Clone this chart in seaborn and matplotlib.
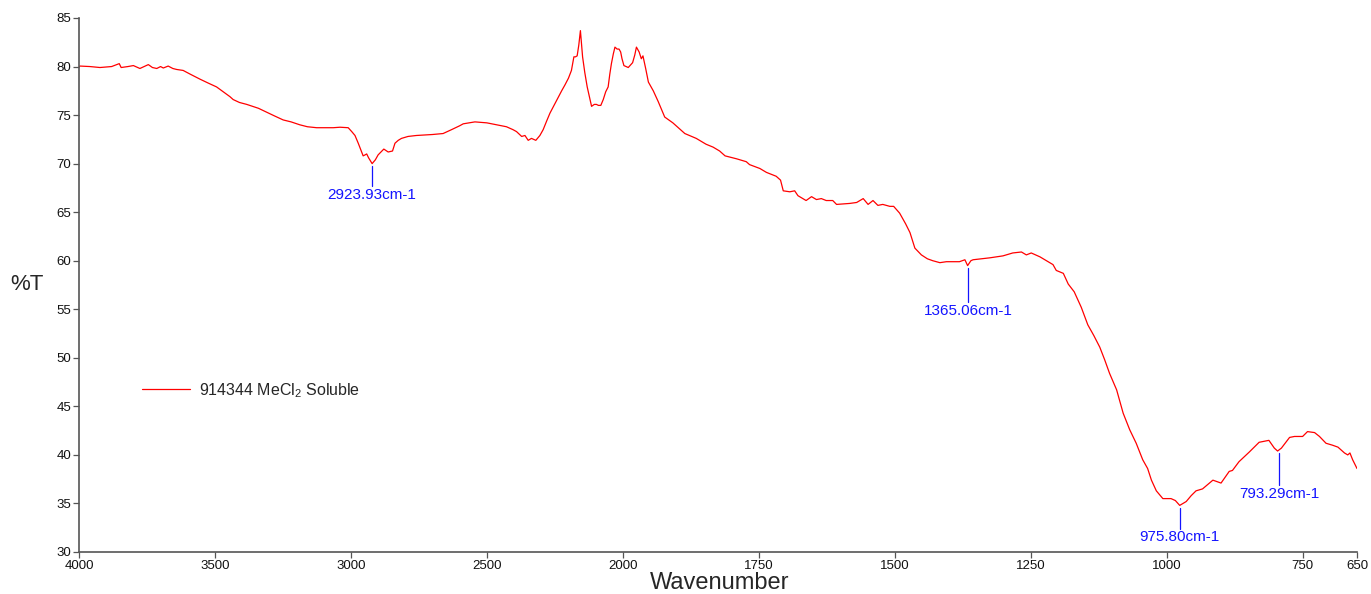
import matplotlib
matplotlib.use("Agg")
import matplotlib.pyplot as plt
import numpy as np
import seaborn as sns

# spectrum (wavenumber cm-1, %T)
wavenumber = [
    4000, 3996, 3960, 3923, 3880, 3852, 3845, 3820, 3800, 3776, 3760, 3745, 3730, 3714,
    3700, 3690, 3672, 3655, 3641, 3617, 3590, 3555, 3525, 3494, 3465, 3445, 3433, 3410,
    3383, 3340, 3310, 3280, 3249, 3220, 3188, 3160, 3126, 3100, 3065, 3040, 3010, 2997,
    2985, 2973, 2962, 2955, 2948, 2942, 2935, 2922, 2910, 2900, 2879, 2863, 2847, 2838,
    2826, 2814, 2790, 2759, 2700, 2661, 2630, 2600, 2587, 2544, 2500, 2464, 2428, 2404,
    2391, 2372, 2360, 2348, 2336, 2320, 2305, 2293, 2280, 2268, 2253, 2238, 2225, 2213,
    2200, 2189, 2180, 2174, 2168, 2162, 2156, 2152, 2148, 2140, 2131, 2122, 2115, 2105,
    2097, 2090, 2081, 2072, 2063, 2054, 2048, 2042, 2035, 2029, 2021, 2014, 2008, 2003,
    1998, 1990, 1982, 1978, 1975, 1970, 1966, 1963, 1958, 1953, 1944, 1935, 1923, 1908,
    1886, 1865, 1847, 1834, 1822, 1812, 1791, 1773, 1767, 1748, 1736, 1718, 1710, 1705,
    1693, 1684, 1678, 1663, 1653, 1644, 1635, 1626, 1614, 1607, 1583, 1570, 1558, 1549,
    1540, 1531, 1522, 1509, 1502, 1491, 1480, 1472, 1463, 1451, 1440, 1430, 1417, 1405,
    1381, 1371, 1366, 1360, 1356, 1325, 1301, 1283, 1267, 1258, 1249, 1233, 1215, 1209,
    1203, 1190, 1181, 1170, 1157, 1145, 1134, 1123, 1114, 1105, 1092, 1080, 1068, 1056,
    1044, 1035, 1028, 1019, 1007, 992, 984, 976, 964, 955, 946, 934, 915, 900,
    885, 879, 867, 848, 830, 812, 802, 796, 789, 774, 765, 750, 741, 728,
    719, 707, 695, 685, 673, 667, 663, 658, 650,
]
transmittance = [
    80.0, 80.05, 80.0, 79.9, 80.0, 80.3, 79.9, 80.0, 80.1, 79.8, 80.0, 80.2, 79.9, 79.8,
    80.0, 79.85, 80.05, 79.8, 79.7, 79.6, 79.2, 78.7, 78.3, 77.9, 77.3, 76.9, 76.6, 76.3,
    76.1, 75.7, 75.3, 74.9, 74.5, 74.3, 74.0, 73.8, 73.7, 73.7, 73.7, 73.75, 73.7, 73.3,
    72.9, 72.1, 71.3, 70.8, 70.9, 71.0, 70.6, 70.0, 70.4, 70.9, 71.5, 71.2, 71.3, 72.1,
    72.4, 72.6, 72.8, 72.9, 73.0, 73.1, 73.5, 73.9, 74.1, 74.3, 74.2, 74.0, 73.8, 73.5,
    73.3, 72.8, 72.9, 72.4, 72.6, 72.4, 72.9, 73.5, 74.4, 75.2, 76.0, 76.8, 77.5, 78.1,
    78.8, 79.6, 81.0, 81.0, 81.1, 82.2, 83.7, 82.3, 81.0, 79.4, 77.9, 76.8, 75.9, 76.1,
    76.1, 76.0, 76.0, 76.6, 77.4, 77.9, 79.2, 80.3, 81.3, 82.0, 81.8, 81.8, 81.5, 80.8,
    80.1, 79.9, 80.4, 81.2, 82.0, 81.5, 80.8, 81.1, 79.8, 78.4, 77.5, 76.4, 74.8, 74.2,
    73.1, 72.6, 72.0, 71.7, 71.3, 70.8, 70.5, 70.2, 69.9, 69.5, 69.1, 68.7, 68.3, 67.2,
    67.1, 67.2, 66.7, 66.2, 66.6, 66.3, 66.4, 66.2, 66.2, 65.8, 65.9, 66.0, 66.4, 65.8,
    66.2, 65.7, 65.8, 65.6, 65.6, 64.9, 63.8, 62.9, 61.3, 60.6, 60.2, 60.0, 59.8, 59.9,
    59.9, 60.1, 59.5, 60.0, 60.1, 60.3, 60.5, 60.8, 60.9, 60.6, 60.8, 60.4, 59.8, 59.6,
    59.0, 58.7, 57.6, 56.8, 55.2, 53.4, 52.3, 51.1, 49.8, 48.4, 46.7, 44.3, 42.6, 41.2,
    39.5, 38.6, 37.4, 36.3, 35.5, 35.5, 35.3, 34.8, 35.2, 35.8, 36.3, 36.5, 37.4, 37.1,
    38.3, 38.4, 39.3, 40.3, 41.3, 41.5, 40.7, 40.4, 40.7, 41.8, 41.9, 41.9, 42.4, 42.3,
    41.9, 41.2, 41.0, 40.8, 40.2, 40.0, 40.2, 39.5, 38.6,
]

peak_wn = [2923.93, 1365.06, 975.80, 793.29]
peak_labels = ["2923.93cm-1", "1365.06cm-1", "975.80cm-1", "793.29cm-1"]
peak_label_T = [66.8, 54.8, 31.5, 36.0]

x_ticks = [4000, 3500, 3000, 2500, 2000, 1750, 1500, 1250, 1000, 750, 650]
y_ticks = [30, 35, 40, 45, 50, 55, 60, 65, 70, 75, 80, 85]

series_name = "914344 MeCl$_\\mathregular{2}$ Soluble"


def fwd(x):
    # axis is compressed 2x above 2000 cm-1
    x = np.asarray(x, dtype=float)
    return np.where(x > 2000, 2000 + (x - 2000) / 2.0, x)


def inv(u):
    u = np.asarray(u, dtype=float)
    return np.where(u > 2000, 2000 + (u - 2000) * 2.0, u)


sns.set_style("ticks")
plt.rcParams["font.family"] = ["Liberation Sans", "DejaVu Sans"]
plt.rcParams["mathtext.fontset"] = "custom"
plt.rcParams["mathtext.rm"] = "Liberation Sans"

axis_grey = "#555555"
blue = "#1414ff"

fig = plt.figure(figsize=(13.71, 5.94), dpi=100)
ax = fig.add_axes([79 / 1371, 1 - 552 / 594, 1278 / 1371, 534 / 594])

ax.set_xscale("function", functions=(fwd, inv))
sns.lineplot(x=wavenumber, y=transmittance, sort=False, color="#ff0000", lw=0.9,
             label=series_name, ax=ax)

ax.set_xlim(4000, 650)
ax.set_ylim(30, 85)
ax.set_xticks(x_ticks)
ax.set_xticklabels([str(t) for t in x_ticks])
ax.set_yticks(y_ticks)
ax.minorticks_off()
ax.tick_params(axis="both", direction="out", length=4, width=0.9, color=axis_grey,
               labelsize=9.5, pad=1.5, labelcolor="#111111")

sns.despine(ax=ax)
for side in ("left", "bottom"):
    ax.spines[side].set_color(axis_grey)
    ax.spines[side].set_linewidth(1.2)

# peak markers
for wn, txt, ty in zip(peak_wn, peak_labels, peak_label_T):
    curve_T = np.interp(wn, wavenumber[::-1], transmittance[::-1])
    ax.plot([wn, wn], [curve_T - 0.3, ty + 0.9], color=blue, lw=0.9)
    ax.text(wn, ty, txt, color=blue, fontsize=11, ha="center", va="center")

ax.set_xlabel("Wavenumber", fontsize=17)
ax.xaxis.set_label_coords(0.5016, -0.037)
ax.set_ylabel("%T", fontsize=16, rotation=0, va="center", ha="center")
ax.yaxis.set_label_coords(-52 / 1278, 0.5)

ax.legend(loc="center left", bbox_to_anchor=(63 / 1278, 0.303), frameon=False,
          fontsize=11.5, handlelength=3.0, handletextpad=0.55, borderpad=0, borderaxespad=0)

fig.savefig("out.png", dpi=100)
